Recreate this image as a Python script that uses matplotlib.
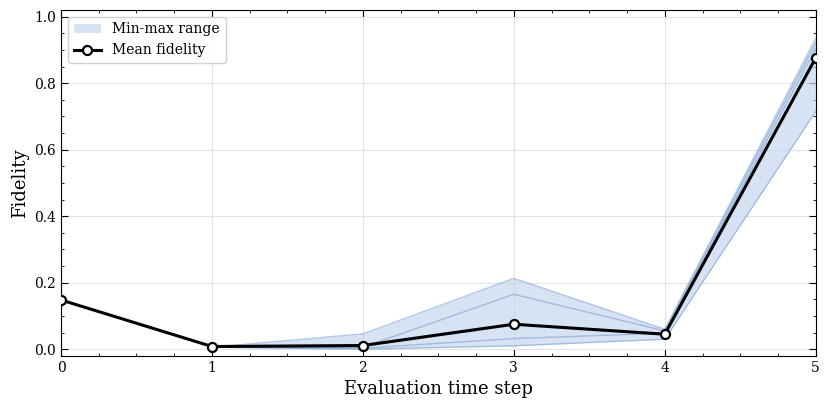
import numpy as np
import matplotlib
matplotlib.use("Agg")
import matplotlib.pyplot as plt
from matplotlib.ticker import AutoMinorLocator

steps = [0, 1, 2, 3, 4, 5]
mean_fidelity = [0.148, 0.008, 0.011, 0.075, 0.045, 0.876]

# individual runs, evaluated from step 1 onward
run_steps = [1, 2, 3, 4, 5]
run_a = [0.006, 0.046, 0.213, 0.060, 0.935]
run_b = [0.006, 0.006, 0.165, 0.055, 0.922]
run_c = [0.006, 0.003, 0.032, 0.048, 0.905]
run_d = [0.006, 0.000, 0.010, 0.030, 0.715]
runs = [run_a, run_b, run_c, run_d]

plt.rcParams["font.family"] = "DejaVu Serif"
plt.rcParams["mathtext.fontset"] = "dejavuserif"

fig = plt.figure(figsize=(8.29, 4.09), dpi=100)
ax = fig.add_axes([0.0736, 0.130, 0.9104, 0.8456])

arr = np.array(runs)
lo = arr.min(axis=0)
hi = arr.max(axis=0)
ax.fill_between(run_steps, lo, hi, color="#c6d7ee", alpha=0.7, lw=0, label="Min-max range")
for r in runs:
    ax.plot(run_steps, r, color="#5b8cc6", alpha=0.45, lw=1.0)

ax.plot(steps, mean_fidelity, color="black", lw=2.2, marker="o", markersize=6.5,
        markerfacecolor="white", markeredgecolor="black", markeredgewidth=1.6,
        label="Mean fidelity", zorder=5)

ax.set_xlim(0, 5)
ax.set_ylim(-0.02, 1.02)
ax.set_xticks(steps)
ax.set_yticks([0.0, 0.2, 0.4, 0.6, 0.8, 1.0])
ax.xaxis.set_minor_locator(AutoMinorLocator(4))
ax.yaxis.set_minor_locator(AutoMinorLocator(4))
ax.tick_params(which="both", direction="in", top=True, right=True, labelsize=10)
ax.tick_params(which="major", length=5)
ax.tick_params(which="minor", length=2.5)
ax.grid(True, color="#e3e3e3", lw=0.8)
ax.set_axisbelow(True)

ax.set_xlabel("Evaluation time step", fontsize=13)
ax.set_ylabel("Fidelity", fontsize=13)
ax.legend(loc="upper left", fontsize=10, framealpha=0.9, edgecolor="#cccccc")

fig.savefig("out.png", dpi=100)
